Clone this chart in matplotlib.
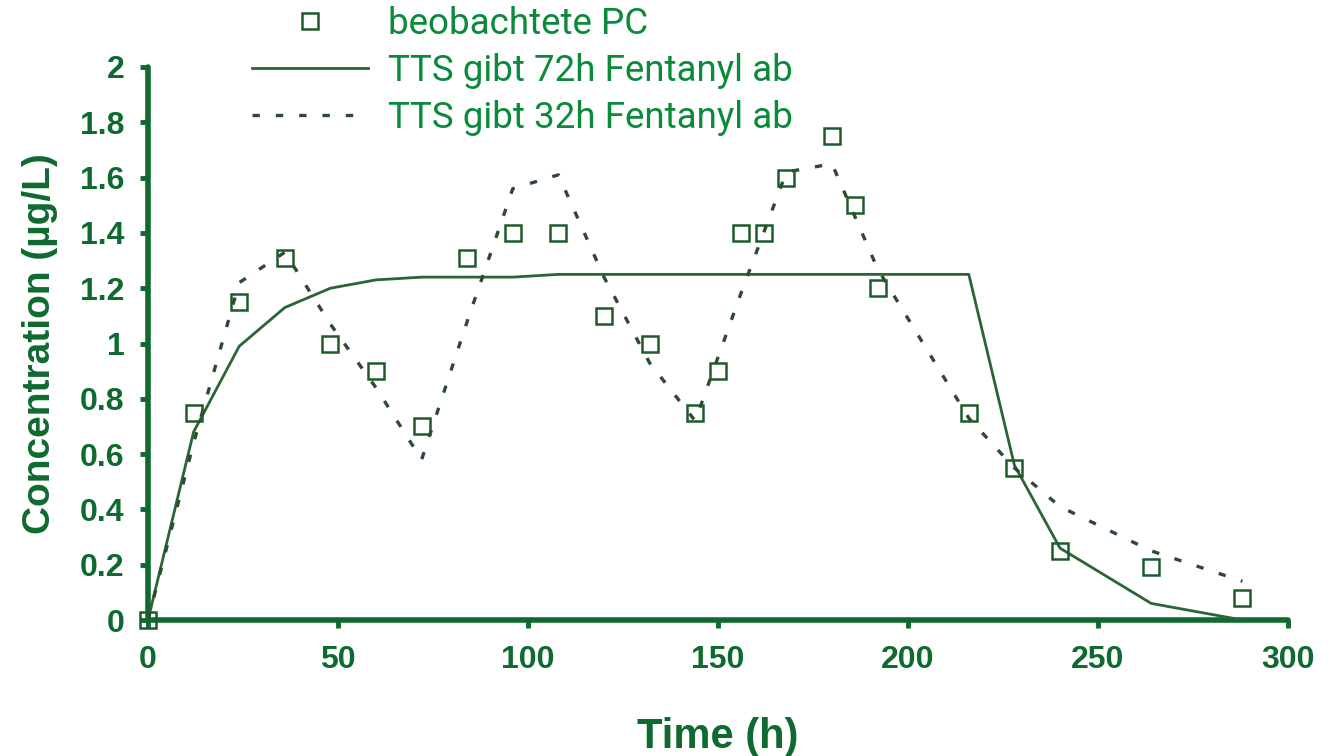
import matplotlib
matplotlib.use('Agg')
import matplotlib.pyplot as plt

# beobachtete Plasmakonzentration
obs_t = [0, 12, 24, 36, 48, 60, 72, 84, 96, 108, 120, 132, 144, 150, 156, 162, 168, 180, 186, 192, 216, 228, 240, 264, 288]
obs_c = [0.0, 0.75, 1.15, 1.31, 1.0, 0.9, 0.7, 1.31, 1.4, 1.4, 1.1, 1.0, 0.75, 0.9, 1.4, 1.4, 1.6, 1.75, 1.5, 1.2, 0.75, 0.55, 0.25, 0.19, 0.08]

# Modell: TTS gibt 72h Fentanyl ab
m72_t = [0, 12, 24, 36, 48, 60, 72, 96, 108, 216, 228, 240, 264, 288]
m72_c = [0.0, 0.68, 0.99, 1.13, 1.2, 1.23, 1.24, 1.24, 1.25, 1.25, 0.56, 0.26, 0.06, 0.0]

# Modell: TTS gibt 32h Fentanyl ab
m32_t = [0, 12, 24, 36, 48, 60, 72, 84, 96, 108, 120, 132, 144, 156, 168, 180, 192, 204, 216, 228, 240, 264, 288]
m32_c = [0.0, 0.64, 1.22, 1.33, 1.07, 0.84, 0.58, 1.08, 1.56, 1.61, 1.24, 0.93, 0.72, 1.18, 1.62, 1.65, 1.27, 1.0, 0.73, 0.55, 0.41, 0.25, 0.14]

xticks = [0, 50, 100, 150, 200, 250, 300]
yticks = [0, 0.2, 0.4, 0.6, 0.8, 1, 1.2, 1.4, 1.6, 1.8, 2]
ytick_labels = ['0', '0.2', '0.4', '0.6', '0.8', '1', '1.2', '1.4', '1.6', '1.8', '2']

axis_green = '#0e6a2e'
text_green = '#0b8a3c'
line_green = '#2a6535'

fig = plt.figure(figsize=(13.31, 7.56), dpi=100)
ax = fig.add_axes([148 / 1331, 1 - 620 / 756, (1288 - 148) / 1331, (620 - 67) / 756])

ax.plot(obs_t, obs_c, linestyle='none', marker='s', markersize=12, markerfacecolor='none',
        markeredgecolor='#1f5a2c', markeredgewidth=1.8, label='beobachtete PC', clip_on=False, zorder=4)
ax.plot(m72_t, m72_c, color=line_green, linewidth=2, label='TTS gibt 72h Fentanyl ab', zorder=3)
ax.plot(m32_t, m32_c, color='#2f4a33', linewidth=2.4, linestyle=(0, (2.2, 4.8)),
        label='TTS gibt 32h Fentanyl ab', zorder=3)

ax.set_xlim(0, 300)
ax.set_ylim(0, 2)
ax.set_xticks(xticks)
ax.set_yticks(yticks)
ax.set_yticklabels(ytick_labels)

for side in ['top', 'right']:
    ax.spines[side].set_visible(False)
for side in ['left', 'bottom']:
    ax.spines[side].set_linewidth(4)
    ax.spines[side].set_color(axis_green)
    ax.spines[side].set_capstyle('round')

ax.tick_params(axis='both', direction='out', length=6, width=3.5, color=axis_green,
               labelcolor=axis_green, labelsize=23)
ax.tick_params(axis='x', pad=12)
ax.tick_params(axis='y', pad=11)
for lbl in ax.get_xticklabels() + ax.get_yticklabels():
    lbl.set_fontfamily('Liberation Sans')
    lbl.set_fontweight('bold')

ax.set_xlabel('Time (h)', fontsize=30, fontweight='bold', family='Liberation Sans', color=axis_green, labelpad=30)
ax.set_ylabel('Concentration (µg/L)', fontsize=28, fontweight='bold', family='Liberation Sans', color=axis_green, labelpad=16)

leg = fig.legend(loc='upper left', bbox_to_anchor=(252 / 1331, 1 - 6 / 756), frameon=False,
                 borderpad=0, borderaxespad=0, handlelength=3.15, handletextpad=0.55,
                 labelspacing=0.3, numpoints=1, prop={'family': 'Roboto', 'size': 26.5})
for t in leg.get_texts():
    t.set_color(text_green)

fig.savefig('out.png', dpi=100)
